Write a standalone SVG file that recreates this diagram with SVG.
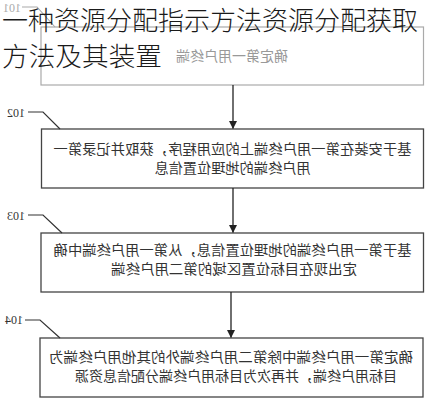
<svg xmlns="http://www.w3.org/2000/svg" width="428" height="400" viewBox="0 0 428 400">
  <defs>
    <marker id="arr" markerWidth="8" markerHeight="12" refX="7.5" refY="4" orient="auto" markerUnits="userSpaceOnUse" viewBox="0 0 8 8">
      <path d="M0,0 L8,4 L0,8 Z" fill="#222"/>
    </marker>
    <style>
      .box { fill: #fff; stroke: #444; stroke-width: 1.3; }
      .box1 { fill: #fff; stroke: #aaa; stroke-width: 1.2; }
      .t { font-family: "Noto Sans CJK SC", "Noto Sans", sans-serif; font-size: 13.5px; fill: #333; text-anchor: middle; }
      .t1 { font-family: "Noto Sans CJK SC", "Noto Sans", sans-serif; font-size: 14px; fill: #999; text-anchor: middle; }
      .lbl { font-family: "Liberation Serif", serif; font-size: 12px; fill: #333; }
      .lbl1 { font-family: "Liberation Serif", serif; font-size: 12px; fill: #aaa; }
      .lead { fill: none; stroke: #333; stroke-width: 1.2; }
      .lead1 { fill: none; stroke: #aaa; stroke-width: 1.1; }
      .conn { stroke: #222; stroke-width: 1.3; fill: none; }
      .title { font-family: "Noto Sans CJK SC", "Noto Sans", sans-serif; font-size: 26px; fill: #1a1a1a; font-weight: 300; }
    </style>
  </defs>
  <rect width="428" height="400" fill="#fff"/>
  <g transform="translate(428,0) scale(-1,1)">
    <g id="node101">
      <rect class="box1" x="4.5" y="27" width="382.5" height="58"/>
      <text class="t1" x="196" y="61">确定第一用户终端</text>
      <path class="lead1" d="M406,7 L391,7 L373,27"/>
      <text class="lbl1" x="407" y="12">101</text>
    </g>
    <g id="node102">
      <rect class="box" x="4.5" y="129" width="382" height="59"/>
      <text class="t" x="195.5" y="154" textLength="358" lengthAdjust="spacingAndGlyphs">基于安装在第一用户终端上的应用程序，获取并记录第一</text>
      <text class="t" x="195.5" y="173" textLength="156" lengthAdjust="spacingAndGlyphs">用户终端的地理位置信息</text>
      <path class="lead" d="M400,112 L385,112 L368,129"/>
      <text class="lbl" x="403" y="117">102</text>
    </g>
    <g id="node103">
      <rect class="box" x="4.5" y="233" width="382.5" height="59"/>
      <text class="t" x="195.5" y="255" textLength="358" lengthAdjust="spacingAndGlyphs">基于第一用户终端的地理位置信息，从第一用户终端中确</text>
      <text class="t" x="194" y="274" textLength="246" lengthAdjust="spacingAndGlyphs">定出现在目标位置区域的第二用户终端</text>
      <path class="lead" d="M400,215 L385,215 L366,233"/>
      <text class="lbl" x="403" y="220">103</text>
    </g>
    <g id="node104">
      <rect class="box" x="5" y="338" width="383" height="59"/>
      <text class="t" x="197" y="362" textLength="364" lengthAdjust="spacingAndGlyphs">确定第一用户终端中除第二用户终端外的其他用户终端为</text>
      <text class="t" x="192" y="381" textLength="322" lengthAdjust="spacingAndGlyphs">目标用户终端，并再次为目标用户终端分配信息资源</text>
      <path class="lead" d="M403,320 L388,320 L368,338"/>
      <text class="lbl" x="405" y="324">104</text>
    </g>
    <g id="connectors">
      <line class="conn" x1="195" y1="85" x2="195" y2="128.5" marker-end="url(#arr)"/>
      <line class="conn" x1="195" y1="188" x2="195" y2="232.5" marker-end="url(#arr)"/>
      <line class="conn" x1="197" y1="292" x2="197" y2="337.5" marker-end="url(#arr)"/>
    </g>
  </g>
  <g id="title">
    <text class="title" x="2" y="30" textLength="416" lengthAdjust="spacingAndGlyphs">一种资源分配指示方法资源分配获取</text>
    <text class="title" x="2" y="66" textLength="160" lengthAdjust="spacingAndGlyphs">方法及其装置</text>
  </g>
</svg>
